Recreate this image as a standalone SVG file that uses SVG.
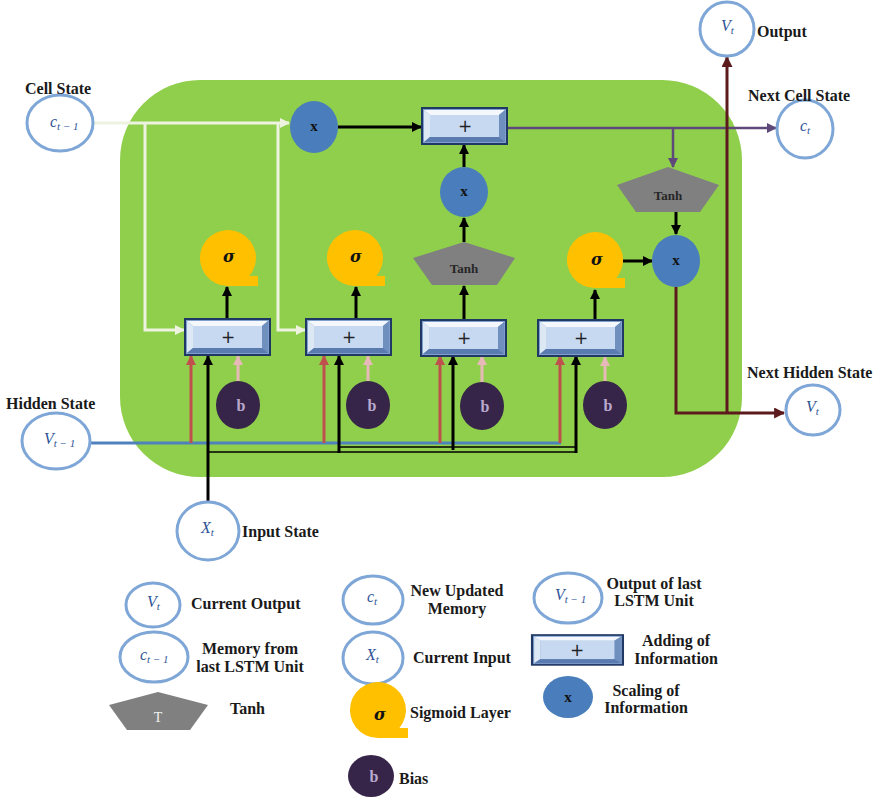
<svg xmlns="http://www.w3.org/2000/svg" xmlns:xlink="http://www.w3.org/1999/xlink" width="881" height="798" viewBox="0 0 881 798">
<style>
.lbl{font-family:"Liberation Serif","Times New Roman",serif;font-weight:bold;font-size:16px;fill:#1a1a1a}
.st{fill:#ffffff;stroke:#7ea6d6;stroke-width:3}
.mt{font-family:"Liberation Serif","Times New Roman",serif;font-style:italic;font-size:16px;fill:#2f5597}
.mt tspan{font-size:11px}
.xc{fill:#4a7dbb}
.xt{font-family:"Liberation Serif",serif;font-weight:bold;font-size:15px;fill:#111}
.sg{fill:#ffc000}
.sgt{font-family:"DejaVu Serif","Liberation Serif",serif;font-style:italic;font-weight:bold;font-size:16px;fill:#111}
.bc{fill:#372549}
.bt{font-family:"Liberation Serif",serif;font-weight:bold;font-size:16px;fill:#b9a9cf}
.th{fill:#808080}
.tht{font-family:"Liberation Serif",serif;font-weight:bold;font-size:13px;fill:#262626}
.pt{font-family:"DejaVu Sans",sans-serif;font-size:17px;fill:#222}
.c{fill:none}
.k{stroke:#000;stroke-width:3}
.kt{stroke:#000;stroke-width:1.6}
.cell{stroke:#eef3df;stroke-width:3}
.pu{stroke:#5f497a;stroke-width:2.5}
.mr{stroke:#5c1a1c;stroke-width:3}
.bl{stroke:#4f81bd;stroke-width:3}
.rd{stroke:#c0504d;stroke-width:3}
.pk{stroke:#e6b9b8;stroke-width:3}
</style>
<defs>
<marker id="ak" viewBox="0 0 10 10" refX="9" refY="5" markerWidth="10" markerHeight="10" markerUnits="userSpaceOnUse" orient="auto"><path d="M0,0 L10,5 L0,10 z" fill="#000"/></marker>
<marker id="ac" viewBox="0 0 10 10" refX="9" refY="5" markerWidth="10" markerHeight="10" markerUnits="userSpaceOnUse" orient="auto"><path d="M0,0 L10,5 L0,10 z" fill="#eef3df"/></marker>
<marker id="ap" viewBox="0 0 10 10" refX="9" refY="5" markerWidth="10" markerHeight="10" markerUnits="userSpaceOnUse" orient="auto"><path d="M0,0 L10,5 L0,10 z" fill="#5f497a"/></marker>
<marker id="am" viewBox="0 0 10 10" refX="9" refY="5" markerWidth="11" markerHeight="11" markerUnits="userSpaceOnUse" orient="auto"><path d="M0,0 L10,5 L0,10 z" fill="#5c1a1c"/></marker>
<marker id="ar" viewBox="0 0 10 10" refX="9" refY="5" markerWidth="10" markerHeight="10" markerUnits="userSpaceOnUse" orient="auto"><path d="M0,0 L10,5 L0,10 z" fill="#c0504d"/></marker>
<marker id="ai" viewBox="0 0 10 10" refX="9" refY="5" markerWidth="10" markerHeight="10" markerUnits="userSpaceOnUse" orient="auto"><path d="M0,0 L10,5 L0,10 z" fill="#e6b9b8"/></marker>
<path id="sig" d="M0,28 A28,28 0 1 1 21.4,18 L30,18 L30,28 Z"/>
<g id="blk">
<rect x="0" y="0" width="85" height="36" fill="#7f9fcc" stroke="#1f3864" stroke-width="2"/>
<polygon points="2,2 83,2 77,7 8,7" fill="#f4f8fd"/>
<polygon points="2,2 8,7 8,29 2,34" fill="#dde8f5"/>
<polygon points="83,2 77,7 77,29 83,34" fill="#6f8fbf"/>
<polygon points="2,34 8,29 77,29 83,34" fill="#5a7bb0"/>
<rect x="8" y="7" width="69" height="22" fill="#c6d9f1"/>
</g>
</defs>

<rect id="cell-body" x="120" y="80" width="622" height="397" rx="80" ry="80" fill="#8fcf4c"/>

<g id="connectors" class="c">
<path class="c cell" d="M93,123 H289" marker-end="url(#ac)"/>
<path class="c cell" d="M145,123 V330 H184" marker-end="url(#ac)"/>
<path class="c cell" d="M278,123 V330 H305" marker-end="url(#ac)"/>
<path class="c k" d="M338,127 H421" marker-end="url(#ak)"/>
<path class="c k" d="M464,167 V145" marker-end="url(#ak)"/>
<path class="c k" d="M464,242 V218" marker-end="url(#ak)"/>
<path class="c k" d="M464,320 V286" marker-end="url(#ak)"/>
<path class="c k" d="M227,319 V287" marker-end="url(#ak)"/>
<path class="c k" d="M356,319 V287" marker-end="url(#ak)"/>
<path class="c k" d="M595,321 V290" marker-end="url(#ak)"/>
<path class="c k" d="M623,261 H652" marker-end="url(#ak)"/>
<path class="c k" d="M676,212 V234" marker-end="url(#ak)"/>
<path class="c pu" d="M508,128 H776" marker-end="url(#ap)"/>
<path class="c pu" d="M673,128 V167" marker-end="url(#ap)"/>
<path class="c mr" d="M676,287 V413 H784" marker-end="url(#am)"/>
<path class="c mr" d="M727,413 V57" marker-end="url(#am)"/>
<path class="c bl" d="M90,443 H561"/>
<path class="c rd" d="M191,443 V356" marker-end="url(#ar)"/>
<path class="c rd" d="M324,443 V356" marker-end="url(#ar)"/>
<path class="c rd" d="M440,443 V356" marker-end="url(#ar)"/>
<path class="c rd" d="M560,443 V356" marker-end="url(#ar)"/>
<path class="c pk" d="M238,381 V356" marker-end="url(#ai)"/>
<path class="c pk" d="M368,381 V356" marker-end="url(#ai)"/>
<path class="c pk" d="M482,382 V356" marker-end="url(#ai)"/>
<path class="c pk" d="M605,381 V357" marker-end="url(#ai)"/>
<path class="c kt" d="M208,452 H577"/>
<path class="c kt" d="M339,447 H577"/>
<path class="c k" d="M208,502 V356" marker-end="url(#ak)"/>
<path class="c k" d="M339,453 V356" marker-end="url(#ak)"/>
<path class="c k" d="M453,450 V356" marker-end="url(#ak)"/>
<path class="c k" d="M576,453 V356" marker-end="url(#ak)"/>
</g>

<g id="cell-state">
<ellipse class="st" cx="60" cy="123" rx="33" ry="28"/>
<text class="mt" x="50" y="127">c<tspan dy="3">t − 1</tspan></text>
<text class="lbl" x="25" y="94">Cell State</text>
</g>
<g id="hidden-state">
<ellipse class="st" cx="56" cy="441" rx="34" ry="28"/>
<text class="mt" x="44" y="444">V<tspan dy="3">t − 1</tspan></text>
<text class="lbl" x="6" y="409">Hidden State</text>
</g>
<g id="input-state">
<ellipse class="st" cx="208" cy="531" rx="31" ry="29"/>
<text class="mt" x="201" y="533">X<tspan dy="3">t</tspan></text>
<text class="lbl" x="242" y="537">Input State</text>
</g>
<g id="output">
<ellipse class="st" cx="727" cy="29" rx="27" ry="27"/>
<text class="mt" x="721" y="31">V<tspan dy="3">t</tspan></text>
<text class="lbl" x="757" y="37">Output</text>
</g>
<g id="next-cell">
<ellipse class="st" cx="805" cy="129" rx="28" ry="29"/>
<text class="mt" x="800" y="131">c<tspan dy="3">t</tspan></text>
<text class="lbl" x="748" y="101">Next Cell State</text>
</g>
<g id="next-hidden">
<ellipse class="st" cx="813" cy="410" rx="27" ry="25"/>
<text class="mt" x="806" y="412">V<tspan dy="3">t</tspan></text>
<text class="lbl" x="747" y="378">Next Hidden State</text>
</g>

<g id="mul-forget"><ellipse class="xc" cx="314" cy="127" rx="24" ry="26"/><text class="xt" x="314" y="131" text-anchor="middle">x</text></g>
<g id="add-cell"><use href="#blk" x="422" y="108"/><text class="pt" x="465" y="132" text-anchor="middle">+</text></g>
<g id="mul-input"><ellipse class="xc" cx="464" cy="192" rx="24" ry="25"/><text class="xt" x="464" y="196" text-anchor="middle">x</text></g>
<g id="tanh-cand"><polygon class="th" points="464,242 515,258 497,285 432,285 413,258"/><text class="tht" x="464" y="273" text-anchor="middle">Tanh</text></g>
<g id="tanh-out"><polygon class="th" points="668,167 719,185 700,212 636,212 617,185"/><text class="tht" x="668" y="200" text-anchor="middle">Tanh</text></g>
<g id="mul-out"><ellipse class="xc" cx="676" cy="261" rx="24" ry="26"/><text class="xt" x="676" y="265" text-anchor="middle">x</text></g>

<g id="sig-1"><use href="#sig" x="228" y="258" class="sg"/><text class="sgt" x="229" y="262" text-anchor="middle">σ</text></g>
<g id="sig-2"><use href="#sig" x="355" y="258" class="sg"/><text class="sgt" x="356" y="262" text-anchor="middle">σ</text></g>
<g id="sig-4"><use href="#sig" x="595" y="260" class="sg"/><text class="sgt" x="597" y="265" text-anchor="middle">σ</text></g>

<g id="add-1"><use href="#blk" x="185" y="319"/><text class="pt" x="228" y="343" text-anchor="middle">+</text></g>
<g id="add-2"><use href="#blk" x="306" y="319"/><text class="pt" x="349" y="343" text-anchor="middle">+</text></g>
<g id="add-3"><use href="#blk" x="421" y="320"/><text class="pt" x="464" y="344" text-anchor="middle">+</text></g>
<g id="add-4"><use href="#blk" x="538" y="320"/><text class="pt" x="581" y="344" text-anchor="middle">+</text></g>

<g id="bias-1"><ellipse class="bc" cx="238" cy="405" rx="22" ry="24"/><text class="bt" x="241" y="411" text-anchor="middle">b</text></g>
<g id="bias-2"><ellipse class="bc" cx="368" cy="405" rx="22" ry="24"/><text class="bt" x="372" y="411" text-anchor="middle">b</text></g>
<g id="bias-3"><ellipse class="bc" cx="482" cy="406" rx="22" ry="24"/><text class="bt" x="485" y="412" text-anchor="middle">b</text></g>
<g id="bias-4"><ellipse class="bc" cx="605" cy="405" rx="22" ry="24"/><text class="bt" x="608" y="411" text-anchor="middle">b</text></g>

<g id="legend">
<g id="lg-vt"><ellipse class="st" cx="153" cy="605" rx="27" ry="22"/><text class="mt" x="147" y="607">V<tspan dy="3">t</tspan></text><text class="lbl" x="191" y="609">Current Output</text></g>
<g id="lg-ct1"><ellipse class="st" cx="154" cy="657" rx="34" ry="25"/><text class="mt" x="140" y="660">c<tspan dy="3">t − 1</tspan></text><text class="lbl" x="250" y="654" text-anchor="middle">Memory from</text><text class="lbl" x="250" y="672" text-anchor="middle">last LSTM Unit</text></g>
<g id="lg-tanh"><polygon class="th" points="158,692 208,705 190,730 127,730 109,705"/><text x="158" y="722" text-anchor="middle" font-family="Liberation Serif,serif" font-size="14" fill="#f2f2f2">T</text><text class="lbl" x="230" y="714">Tanh</text></g>
<g id="lg-ct"><ellipse class="st" cx="373" cy="600" rx="30" ry="24"/><text class="mt" x="367" y="602">c<tspan dy="3">t</tspan></text><text class="lbl" x="457" y="596" text-anchor="middle">New Updated</text><text class="lbl" x="457" y="614" text-anchor="middle">Memory</text></g>
<g id="lg-xt"><ellipse class="st" cx="373" cy="658" rx="30" ry="26"/><text class="mt" x="366" y="660">X<tspan dy="3">t</tspan></text><text class="lbl" x="413" y="663">Current Input</text></g>
<g id="lg-sig"><use href="#sig" x="378" y="710" class="sg"/><text class="sgt" x="380" y="720" text-anchor="middle" font-size="20">σ</text><text class="lbl" x="410" y="718">Sigmoid Layer</text></g>
<g id="lg-bias"><ellipse class="bc" cx="371" cy="776" rx="23" ry="21"/><text class="bt" x="374" y="782" text-anchor="middle">b</text><text class="lbl" x="399" y="784">Bias</text></g>
<g id="lg-vt1"><ellipse class="st" cx="568" cy="598" rx="34" ry="25"/><text class="mt" x="555" y="600">V<tspan dy="3">t − 1</tspan></text><text class="lbl" x="654" y="589" text-anchor="middle">Output of last</text><text class="lbl" x="654" y="606" text-anchor="middle">LSTM Unit</text></g>
<g id="lg-add"><use href="#blk" transform="translate(532,635) scale(1.07,0.83)"/><text class="pt" x="577" y="656" text-anchor="middle">+</text><text class="lbl" x="676" y="646" text-anchor="middle">Adding of</text><text class="lbl" x="676" y="664" text-anchor="middle">Information</text></g>
<g id="lg-mul"><ellipse class="xc" cx="568" cy="697" rx="25" ry="21"/><text class="xt" x="568" y="702" text-anchor="middle">x</text><text class="lbl" x="646" y="696" text-anchor="middle">Scaling of</text><text class="lbl" x="646" y="713" text-anchor="middle">Information</text></g>
</g>
</svg>
